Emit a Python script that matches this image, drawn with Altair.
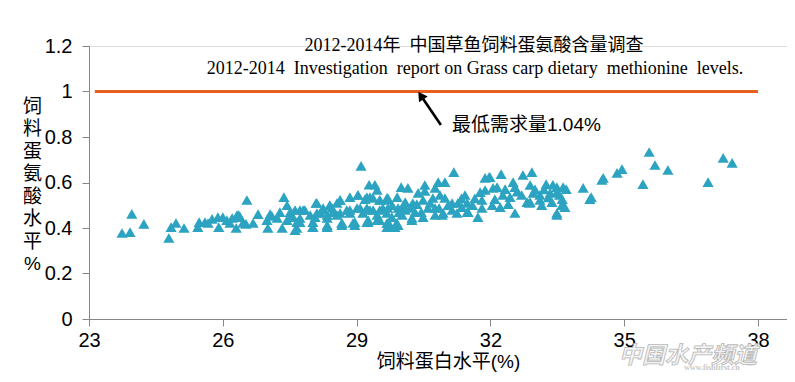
import altair as alt
import pandas as pd

# ---- data ----
points = [
    (23.74,0.378),(23.92,0.382),(23.96,0.462),(24.23,0.418),(24.79,0.356),(24.84,0.404),(24.95,0.422),(25.13,0.400),
    (25.44,0.404),(25.47,0.426),(25.60,0.426),(25.67,0.422),(25.76,0.440),(25.89,0.448),(25.91,0.404),(26.00,0.448),
    (26.09,0.435),(26.16,0.422),(26.21,0.444),(26.30,0.400),(26.32,0.457),(26.36,0.457),(26.39,0.448),(26.45,0.422),
    (26.52,0.418),(26.54,0.523),(26.68,0.422),(26.79,0.461),
    (26.99,0.435),(27.01,0.400),(27.06,0.461),(27.10,0.453),(27.22,0.444),(27.28,0.470),(27.33,0.400),(27.37,0.536),
    (27.44,0.500),(27.44,0.435),(27.51,0.470),(27.57,0.448),(27.66,0.400),(27.73,0.426),(27.73,0.479),(27.84,0.479),
    (27.96,0.457),(28.02,0.404),(28.11,0.510),(28.18,0.466),(28.25,0.488),(28.34,0.457),(28.34,0.413),(28.40,0.500),
    (28.47,0.470),(28.56,0.510),(28.63,0.523),(28.63,0.466),(28.67,0.422),(28.85,0.536),(28.85,0.479),(28.92,0.422),
    (29.01,0.488),(29.03,0.545),(29.10,0.673),(29.19,0.527),(29.23,0.488),(29.26,0.435),(29.28,0.590),(29.30,0.536),
    (29.37,0.479),(29.41,0.590),(29.46,0.567),(29.46,0.435),(29.52,0.523),(29.59,0.488),(29.68,0.523),(29.68,0.422),
    (27.51,0.448),(27.62,0.479),(27.62,0.391),(27.66,0.426),(27.73,0.444),(27.80,0.479),(28.02,0.426),(28.02,0.404),
    (28.07,0.448),(28.09,0.510),(28.11,0.466),(28.25,0.479),(28.34,0.444),(28.34,0.404),(28.40,0.500),(28.45,0.488),
    (28.56,0.457),(28.63,0.523),(28.67,0.413),(28.67,0.422),(28.78,0.479),(28.85,0.466),(28.96,0.426),(28.96,0.413),
    (29.03,0.545),(29.08,0.488),(29.14,0.466),(29.23,0.536),(29.23,0.426),(29.26,0.426),(29.30,0.479),(29.37,0.532),
    (29.46,0.457),(29.52,0.523),(29.52,0.479),(29.52,0.435),(29.68,0.532),(29.68,0.466),(29.68,0.404),
    (29.70,0.532),(29.70,0.488),(29.70,0.422),(29.75,0.413),(29.79,0.448),(29.86,0.404),(29.90,0.422),(29.91,0.536),
    (29.93,0.488),(29.93,0.413),(30.00,0.580),(30.02,0.457),(30.09,0.514),(30.09,0.479),(30.15,0.576),(30.24,0.444),
    (30.24,0.435),(30.26,0.510),(30.31,0.470),(30.38,0.554),(30.49,0.523),(30.49,0.448),(30.53,0.589),(30.53,0.563),
    (30.60,0.488),(30.71,0.532),(30.76,0.576),(30.76,0.488),(30.76,0.457),(30.83,0.602),(30.87,0.545),(30.92,0.457),
    (30.94,0.466),(30.98,0.602),(30.98,0.532),(31.14,0.510),(31.14,0.479),(31.18,0.646),(31.27,0.510),(31.36,0.492),
    (31.43,0.545),(31.48,0.510),(31.48,0.470),(31.50,0.470),(31.72,0.448),(31.77,0.558),(31.81,0.523),(31.81,0.488),
    (31.88,0.620),(31.88,0.567),(31.97,0.624),(32.04,0.500),(32.06,0.576),
    (31.99,0.624),(32.10,0.527),(32.15,0.580),(32.22,0.492),(32.24,0.637),(32.28,0.545),(32.33,0.571),(32.44,0.536),
    (32.51,0.602),(32.55,0.580),(32.55,0.466),(32.73,0.633),(32.82,0.514),(32.87,0.510),(32.89,0.589),(32.89,0.514),
    (32.93,0.646),(32.96,0.554),(33.11,0.545),(33.11,0.523),(33.25,0.593),(33.34,0.554),(33.38,0.514),(33.49,0.580),
    (33.49,0.558),(33.49,0.466),(33.49,0.457),(33.61,0.527),(33.63,0.580),(33.67,0.492),(33.70,0.571),(34.08,0.576),
    (34.23,0.527),(34.26,0.536),
    (29.80,0.500),(29.95,0.470),(30.05,0.500),(30.20,0.488),(30.35,0.505),(30.45,0.470),(30.65,0.510),(30.85,0.488),
    (31.05,0.500),(31.25,0.466),(31.35,0.530),(31.60,0.500),(31.65,0.530),(32.40,0.505),(32.70,0.545),(33.00,0.570),
    (33.20,0.570),(33.30,0.535),(33.55,0.545),(33.40,0.590),(32.60,0.560),(33.15,0.500),(33.60,0.500),
    (34.50,0.611),(34.53,0.620),(34.84,0.642),(34.95,0.659),(35.42,0.593),(35.56,0.734),(35.69,0.677),(35.98,0.655),
    (36.88,0.602),(37.22,0.708),(37.42,0.686),
]
protein = [p[0] for p in points]
methionine = [p[1] for p in points]

x_ticks = [23, 26, 29, 32, 35, 38]
y_ticks = [0, 0.2, 0.4, 0.6, 0.8, 1.0, 1.2]

requirement_x = [23.13, 38.0]
requirement_y = [1.0, 1.0]

arrow_x = [30.89, 30.44]
arrow_y = [0.853, 0.982]

NB = "\u00a0"
title_cn = f"2012-2014年{NB}{NB}中国草鱼饲料蛋氨酸含量调查"
title_en = (f"2012-2014{NB}{NB}Investigation{NB}{NB}report on Grass carp dietary{NB}{NB}"
            f"methionine{NB}{NB}levels.")
note = "最低需求量1.04%"
y_title = list("饲料蛋氨酸水平%")
x_title = "饲料蛋白水平(%)"

W, H = 698, 273
XMAX = 23 + W / 44.6

df = pd.DataFrame({"protein": protein, "methionine": methionine})
req = pd.DataFrame({"x": [requirement_x[0]], "x2": [requirement_x[1]], "y": [requirement_y[0]]})
arr = pd.DataFrame({"x": arrow_x, "y": arrow_y, "o": [0, 1]})
tip = pd.DataFrame({"x": [arrow_x[1]], "y": [arrow_y[1]]})

xs = alt.Scale(domain=[23, XMAX], nice=False, zero=False)
ys = alt.Scale(domain=[0, 1.2], nice=False)

LBL = "Liberation Sans, Arial, Noto Sans CJK SC"
CJK = "Liberation Sans, Noto Sans CJK SC"

xaxis = alt.Axis(values=x_ticks, grid=False, domainColor="#868686", tickColor="#868686",
                 tickSize=7, labelFont=LBL, labelFontSize=20, labelColor="#000000", labelPadding=4,
                 title=x_title, titleFont=CJK, titleFontSize=19, titleFontWeight="normal",
                 titleColor="#000000", titleX=359, titleY=42, titleBaseline="middle", titleAlign="center",
                 labelFlush=False)
yaxis = alt.Axis(values=y_ticks, grid=False, domainColor="#868686", tickColor="#868686",
                 tickSize=7, labelFont=LBL, labelFontSize=20, labelColor="#000000", labelPadding=10,
                 labelExpr="datum.value == 0 ? '0' : datum.value == 1 ? '1' : format(datum.value, '.1f')",
                 title=y_title, titleFont=CJK, titleFontSize=19, titleFontWeight="normal",
                 titleColor="#000000", titleAngle=0, titleX=-57, titleY=51, titleBaseline="top",
                 titleAlign="center", titleLineHeight=22.5, labelFlush=False)

pts = alt.Chart(df).mark_point(shape="triangle-up", filled=True, size=125, color="#2CA3C1", opacity=1).encode(
    x=alt.X("protein:Q", scale=xs, axis=xaxis),
    y=alt.Y("methionine:Q", scale=ys, axis=yaxis),
)

rule = alt.Chart(req).mark_rule(color="#E8601C", strokeWidth=3.2).encode(
    x=alt.X("x:Q", scale=xs), x2="x2:Q", y=alt.Y("y:Q", scale=ys)
)

arrow_line = alt.Chart(arr).mark_line(color="#000000", strokeWidth=2.6).encode(
    x=alt.X("x:Q", scale=xs), y=alt.Y("y:Q", scale=ys), order="o:Q"
)
arrow_head = alt.Chart(tip).mark_point(shape="triangle-up", filled=True, size=110, color="#000000",
                                       angle=326, opacity=1).encode(
    x=alt.X("x:Q", scale=xs), y=alt.Y("y:Q", scale=ys)
)

def txt(s, x, y, size, font, align="center", color="#000000", **kw):
    return alt.Chart(pd.DataFrame({"t": [s]})).mark_text(
        fontSize=size, font=font, align=align, baseline="middle", color=color, **kw
    ).encode(text="t:N", x=alt.value(x), y=alt.value(y))

SERIF = "Liberation Serif, Times New Roman, Noto Sans CJK SC"
t1 = txt(title_cn, 474 - 89, 46 - 46, 18, SERIF)
t2 = txt(title_en, 475 - 89, 69 - 46, 18, SERIF)
t3 = txt(note, 452 - 89, 125 - 46, 19, CJK, align="left")
wm1 = txt("中国水产频道", 688 - 89, 356 - 46, 23, "Noto Sans CJK SC", color="#f4f4f4",
          fontStyle="italic", fontWeight="bold", stroke="#b8b8b8", strokeWidth=0.8)
wm2 = txt("www.fishfirst.cn", 712 - 89, 368 - 46, 8, "Liberation Serif", color="#c8c8c8", fontWeight="bold")

chart = alt.layer(rule, pts, arrow_line, arrow_head, t1, t2, t3, wm1, wm2).properties(
    width=W, height=H,
    autosize=alt.AutoSizeParams(type="none"),
    padding={"left": 81, "top": 38, "right": 0, "bottom": 55},
).configure_view(stroke=None).configure(background="#ffffff")

chart.save("out.html", embed_options={"renderer": "svg", "actions": False})
